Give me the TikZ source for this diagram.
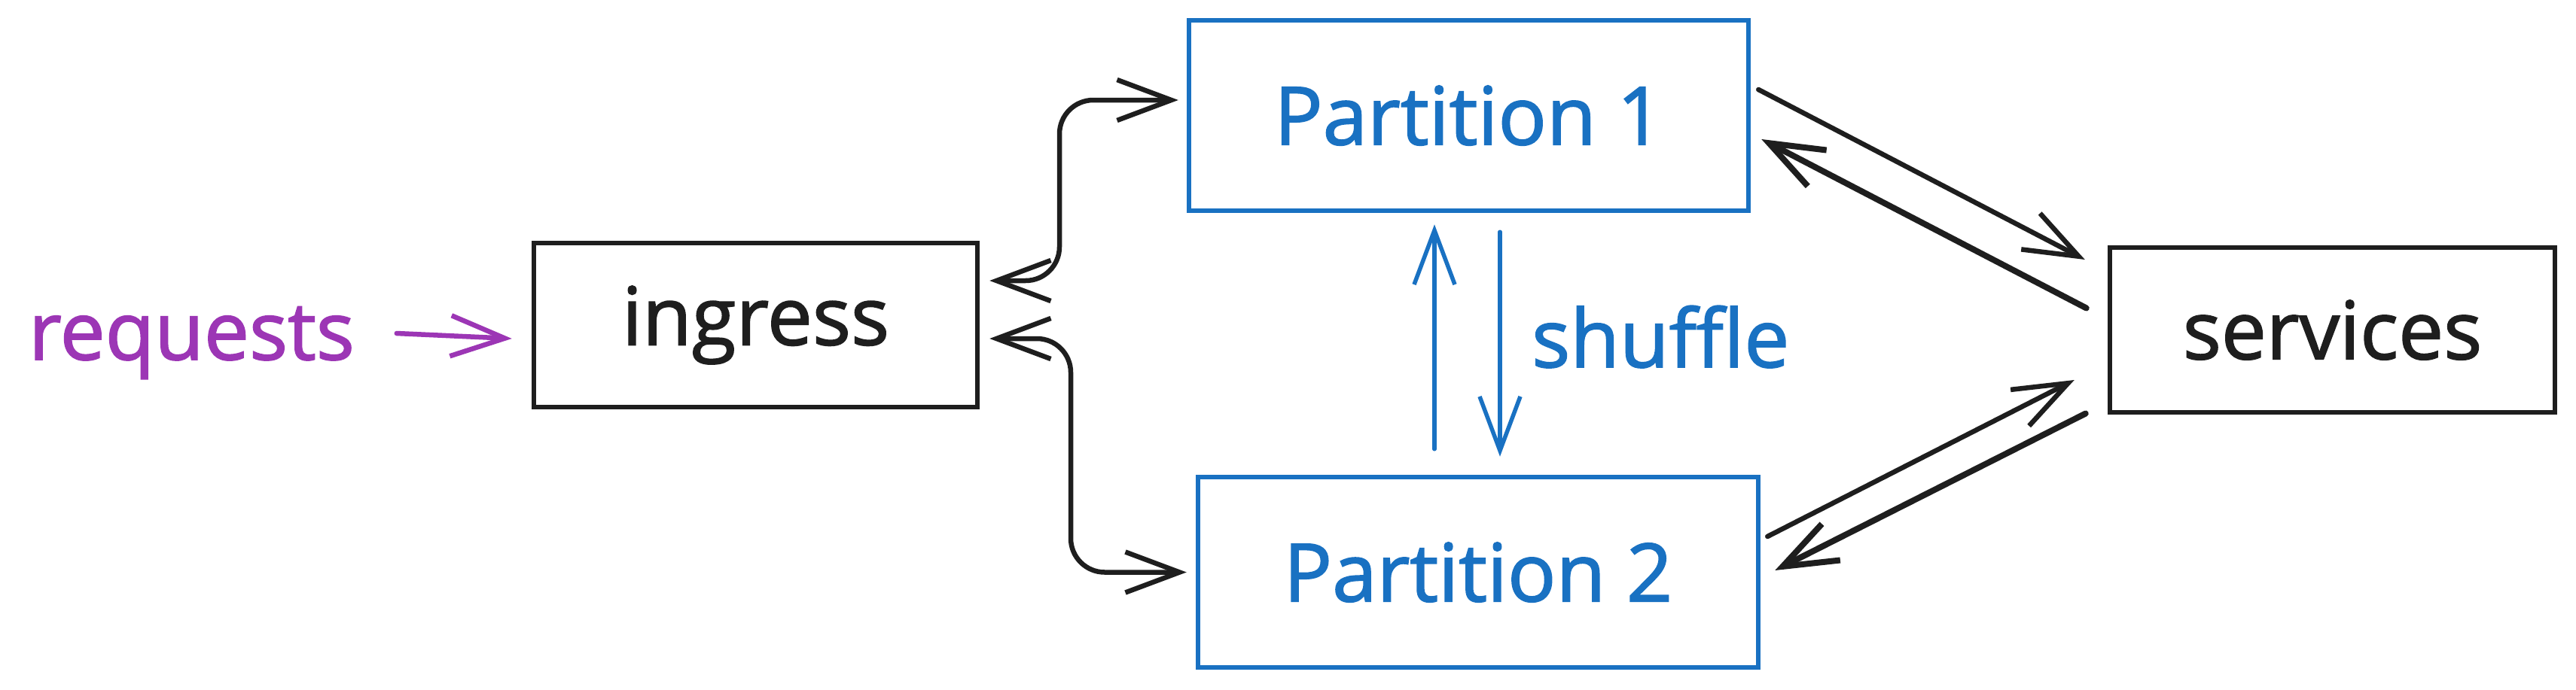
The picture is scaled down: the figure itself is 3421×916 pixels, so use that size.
\documentclass[tikz,border=0pt]{standalone}
\usepackage{fontspec}
\setmainfont{Open Sans}
\newfontfamily\hand{Open Sans}[FakeBold=1.6]
\usetikzlibrary{arrows.meta,calc}
\definecolor{ink}{HTML}{1E1E1E}
\definecolor{blu}{HTML}{1971C2}
\definecolor{vio}{HTML}{9C36B5}
\begin{document}
\begin{tikzpicture}[x=1pt,y=-1pt,
  txt/.style={font=\hand\fontsize{107}{120}\selectfont, inner sep=0pt},
  box/.style={draw=#1, text=#1, line width=6.5pt, txt},
  tip/.tip={Straight Barb[length=72pt,width=54pt]},
  conn/.style={draw=#1, line width=6.5pt, line cap=round, line join=round},
  one/.style={conn=#1, -tip},
  both/.style={conn=ink, tip-tip, rounded corners=45pt},
]
\fill[white] (0,0) rectangle (3421,916);
% boxes
\node[box=ink, minimum width=589pt, minimum height=218pt] (ing) at (1003.5,432) {ingress};
\node[box=blu, minimum width=743pt, minimum height=253pt] (p1) at (1950.5,153.5) {Partition 1};
\node[box=blu, minimum width=744pt, minimum height=253pt] (p2) at (1963,760.5) {Partition 2};
\node[box=ink, minimum width=591pt, minimum height=219pt] (svc) at (3097.5,438.5) {services};
% labels
\node[txt, text=vio, anchor=base] (req) at (254.5,478) {requests};
\node[txt, text=blu, anchor=base west] (shf) at (2034,488) {shuffle};
% requests arrow
\draw[one=vio] ($(ing.west)+(-179,11)$) -- ($(ing.west)+(-26,18)$);
% ingress <-> partitions
\coordinate (a1) at ($(ing.east)+(13,-59)$);
\coordinate (a2) at ($(p1.west)+(-11,-20.5)$);
\coordinate (v1) at (1407,0);
\draw[both] (a1) -| (v1 |- a2) -- (a2);
\coordinate (b1) at ($(ing.east)+(13,18)$);
\coordinate (b2) at ($(p2.west)+(-12,0)$);
\coordinate (v2) at (1422,0);
\draw[both] (b1) -| (v2 |- b2) -- (b2);
% shuffle arrows
\draw[one=blu, line width=5.5pt] ($(p2.north)+(-58,-34)$) -- ($(p1.south)+(-45.5,15)$);
\draw[one=blu, line width=5.5pt] ($(p1.south)+(41.5,25)$) -- ($(p2.north)+(29,-24)$);
% partitions <-> services
\draw[one=ink] ($(p1.east)+(10,-34.5)$) -- ($(svc.west)+(-30,-93.5)$);
\draw[one=ink, line width=8pt] ($(svc.west)+(-28,-29)$) -- ($(p1.east)+(14,31.5)$);
\draw[one=ink] ($(p2.east)+(9,-47.5)$) -- ($(svc.west)+(-44,66.5)$);
\draw[one=ink, line width=8pt] ($(svc.west)+(-29,111)$) -- ($(p2.east)+(19,-2.5)$);
\end{tikzpicture}
\end{document}
